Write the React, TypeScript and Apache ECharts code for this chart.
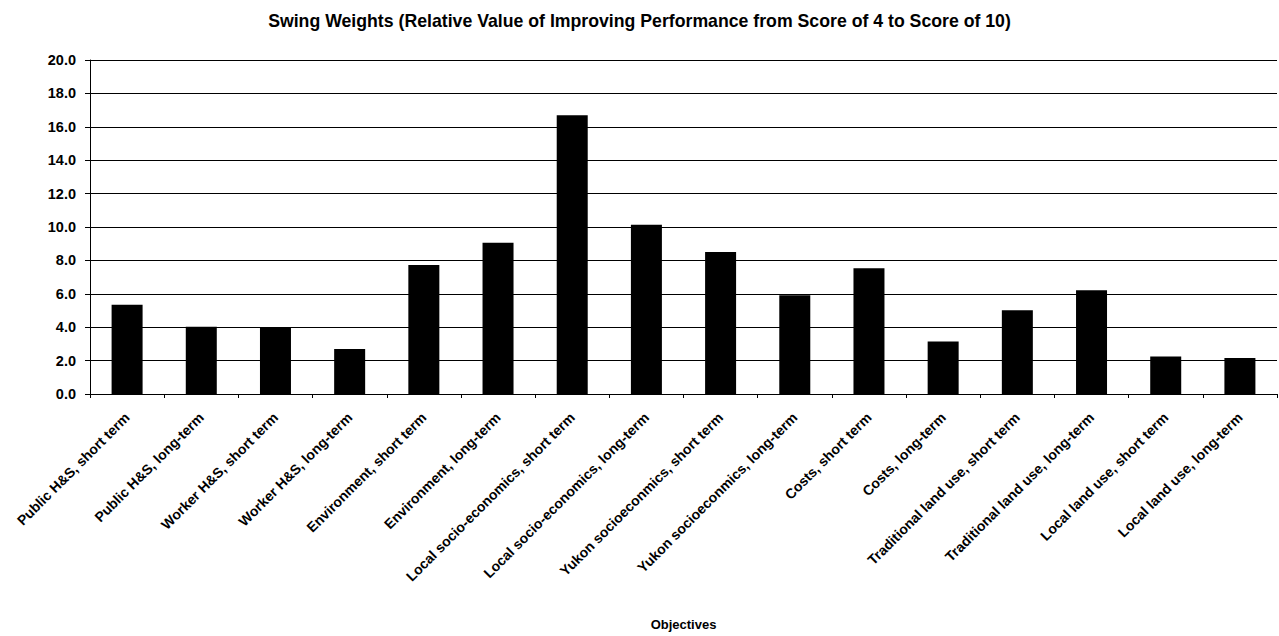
import React, { useEffect, useRef } from "react";
import * as echarts from "echarts";

const title = "Swing Weights (Relative Value of Improving Performance from Score of 4 to Score of 10)";
const xAxisName = "Objectives";
const categories = [
  "Public H&S, short term",
  "Public H&S, long-term",
  "Worker H&S, short term",
  "Worker H&S, long-term",
  "Environment, short term",
  "Environment, long-term",
  "Local socio-economics, short term",
  "Local socio-economics, long-term",
  "Yukon socioeconmics, short term",
  "Yukon socioeconmics, long-term",
  "Costs, short term",
  "Costs, long-term",
  "Traditional land use, short term",
  "Traditional land use, long-term",
  "Local land use, short term",
  "Local land use, long-term",
];
const weights = [5.35, 4.03, 4.0, 2.7, 7.72, 9.05, 16.69, 10.13, 8.51, 5.92, 7.53, 3.14, 5.02, 6.22, 2.24, 2.16];
const yMin = 0;
const yMax = 20;
const yStep = 2;

const FONT = "'Liberation Sans', Arial, sans-serif";

export default function App() {
  const ref = useRef<HTMLDivElement>(null);
  useEffect(() => {
    if (!ref.current) return;
    const chart = echarts.init(ref.current, null, { renderer: "svg" });
    chart.setOption({
      animation: false,
      backgroundColor: "#ffffff",
      title: {
        text: title,
        left: "center",
        top: 7,
        textStyle: { fontFamily: FONT, fontSize: 17.7, fontWeight: "bold", color: "#000" },
      },
      grid: { left: 90, right: 2, top: 60, bottom: 242, containLabel: false, outerBoundsMode: "none" },
      xAxis: {
        type: "category",
        data: categories,
        name: xAxisName,
        nameLocation: "middle",
        nameGap: 224,
        nameTextStyle: { fontFamily: FONT, fontSize: 13, fontWeight: "bold", color: "#000" },
        axisLine: { lineStyle: { color: "#000", width: 1 } },
        axisTick: { show: true, alignWithLabel: false, length: 4, lineStyle: { color: "#000" } },
        axisLabel: {
          interval: 0,
          rotate: 45,
          margin: 21,
          fontFamily: FONT,
          fontSize: 14,
          fontWeight: "bold",
          color: "#000",
        },
        splitLine: { show: false },
      },
      yAxis: {
        type: "value",
        min: yMin,
        max: yMax,
        interval: yStep,
        axisLine: { show: true, lineStyle: { color: "#000", width: 1 } },
        axisTick: { show: true, length: 5, lineStyle: { color: "#000" } },
        axisLabel: {
          margin: 14,
          formatter: (v: number) => v.toFixed(1),
          fontFamily: FONT,
          fontSize: 14.5,
          fontWeight: "bold",
          color: "#000",
        },
        splitLine: { show: true, lineStyle: { color: "#000", width: 1 } },
      },
      series: [
        {
          type: "bar",
          data: weights,
          barWidth: 31,
          itemStyle: { color: "#000" },
        },
      ],
    });
    return () => chart.dispose();
  }, []);
  return (
    <div
      ref={ref}
      style={{ position: "absolute", left: 0, top: 0, width: 1279, height: 636, background: "#fff" }}
    />
  );
}
